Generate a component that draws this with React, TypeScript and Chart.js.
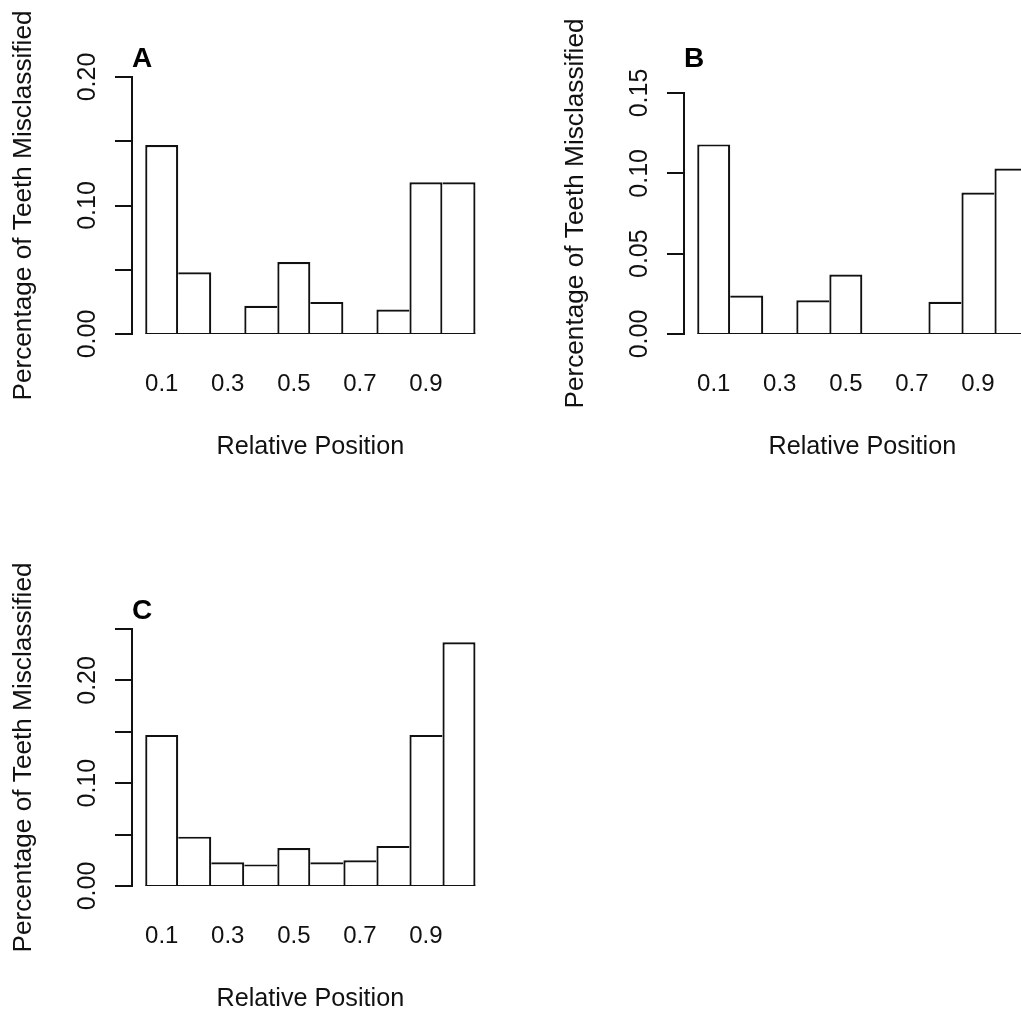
import React, { useEffect, useRef } from 'react';
import { Chart, registerables } from 'chart.js';

Chart.register(...registerables);

// ---- data ----
const binCenters = [0.1, 0.2, 0.3, 0.4, 0.5, 0.6, 0.7, 0.8, 0.9, 1.0];
const xTickValues = [0.1, 0.3, 0.5, 0.7, 0.9];

const valuesA = [0.147, 0.048, 0, 0.022, 0.056, 0.025, 0, 0.019, 0.118, 0.118];
const valuesB = [0.118, 0.024, 0, 0.021, 0.037, 0, 0, 0.020, 0.088, 0.103];
const valuesC = [0.147, 0.048, 0.023, 0.021, 0.037, 0.023, 0.025, 0.039, 0.147, 0.237];

const yTickLabelsA = ['0.00', '', '0.10', '', '0.20'];
const yTickLabelsB = ['0.00', '0.05', '0.10', '0.15'];
const yTickLabelsC = ['0.00', '', '0.10', '', '0.20', ''];

const yMaxA = 0.2;
const yMaxB = 0.15;
const yMaxC = 0.25;

const xTitle = 'Relative Position';
const yTitle = 'Percentage of Teeth Misclassified';

const FONT = '"Liberation Sans", Arial, Helvetica, sans-serif';

type PanelProps = {
  letter: string;
  values: number[];
  yMax: number;
  yLabels: string[];
  left: number;
  top: number;
  titlePadBottom: number;
};

function Panel({ letter, values, yMax, yLabels, left, top, titlePadBottom }: PanelProps) {
  const ref = useRef<HTMLCanvasElement | null>(null);
  useEffect(() => {
    if (!ref.current) return;
    const chart = new Chart(ref.current, {
      type: 'bar',
      data: {
        datasets: [
          {
            type: 'line',
            data: [
              { x: 0.05, y: 0 },
              { x: 1.05, y: 0 },
            ],
            borderColor: '#111',
            borderWidth: 2,
            pointRadius: 0,
            order: 0,
          } as any,
          {
            type: 'bar',
            data: binCenters.map((c, i) => ({ x: c, y: values[i] })),
            backgroundColor: '#fff',
            borderColor: '#111',
            borderSkipped: false,
            inflateAmount: 0,
            barPercentage: 1,
            categoryPercentage: 1,
            order: 1,
            borderWidth: (ctx: any) => {
              const i = ctx.dataIndex;
              const v = values[i];
              if (!v) return 0;
              const prev = i > 0 ? values[i - 1] : -1;
              const next = i < values.length - 1 ? values[i + 1] : -1;
              return { top: 2.2, bottom: 0, left: v > prev ? 2.2 : 0, right: v >= next ? 2.2 : 0 };
            },
          } as any,
        ],
      },
      options: {
        responsive: false,
        animation: false,
        events: [],
        layout: { padding: { left: 0, right: 63.3, top: 45, bottom: 90 } },
        plugins: {
          legend: { display: false },
          tooltip: { enabled: false },
          title: {
            display: true,
            text: letter,
            align: 'start',
            fullSize: false,
            color: '#000',
            font: { family: FONT, size: 28, weight: 'bold', lineHeight: 1 },
            padding: { top: 0, bottom: titlePadBottom },
          },
        },
        scales: {
          x: {
            type: 'linear',
            min: 0.01,
            max: 1.09,
            bounds: 'data',
            offset: false,
            grid: { display: false, drawTicks: false },
            border: { display: false },
            afterBuildTicks: (s: any) => {
              s.ticks = xTickValues.map((v) => ({ value: v }));
            },
            afterFit: (s: any) => {
              s.height = 128;
            },
            ticks: {
              autoSkip: false,
              padding: 36,
              minRotation: 0,
              maxRotation: 0,
              color: '#111',
              font: { family: FONT, size: 24 },
              callback: (v: any) => Number(v).toFixed(1),
            },
            title: {
              display: true,
              text: xTitle,
              color: '#111',
              font: { family: FONT, size: 25.2 },
              padding: { top: 0, bottom: 0 },
            },
          },
          y: {
            type: 'linear',
            min: 0,
            max: yMax,
            grid: {
              display: true,
              drawOnChartArea: false,
              drawTicks: true,
              tickLength: 17,
              color: '#111',
              lineWidth: 2,
            },
            border: { display: true, color: '#111', width: 2 },
            afterFit: (s: any) => {
              s.width = 132;
            },
            ticks: {
              stepSize: 0.05,
              autoSkip: false,
              minRotation: 90,
              maxRotation: 90,
              crossAlign: 'center',
              padding: 3,
              color: '#111',
              font: { family: FONT, size: 25 },
              callback: (_v: any, i: number) => yLabels[i] ?? '',
            },
            title: {
              display: true,
              text: yTitle,
              color: '#111',
              font: { family: FONT, size: 26.2 },
              padding: { top: 8.5, bottom: 0 },
            },
          },
        },
      } as any,
    });
    return () => chart.destroy();
  }, [letter, values, yMax, yLabels, titlePadBottom]);

  return (
    <canvas
      ref={ref}
      width={552}
      height={552}
      style={{ position: 'absolute', left, top, width: 552, height: 552 }}
    />
  );
}

export default function App() {
  return (
    <div
      style={{
        position: 'absolute',
        left: 0,
        top: 0,
        width: 1021,
        height: 1015,
        overflow: 'hidden',
        background: '#fff',
      }}
    >
      <Panel letter="A" values={valuesA} yMax={yMaxA} yLabels={yTickLabelsA} left={0} top={0} titlePadBottom={4} />
      <Panel letter="B" values={valuesB} yMax={yMaxB} yLabels={yTickLabelsB} left={552} top={0} titlePadBottom={20} />
      <Panel letter="C" values={valuesC} yMax={yMaxC} yLabels={yTickLabelsC} left={0} top={552} titlePadBottom={4} />
    </div>
  );
}
